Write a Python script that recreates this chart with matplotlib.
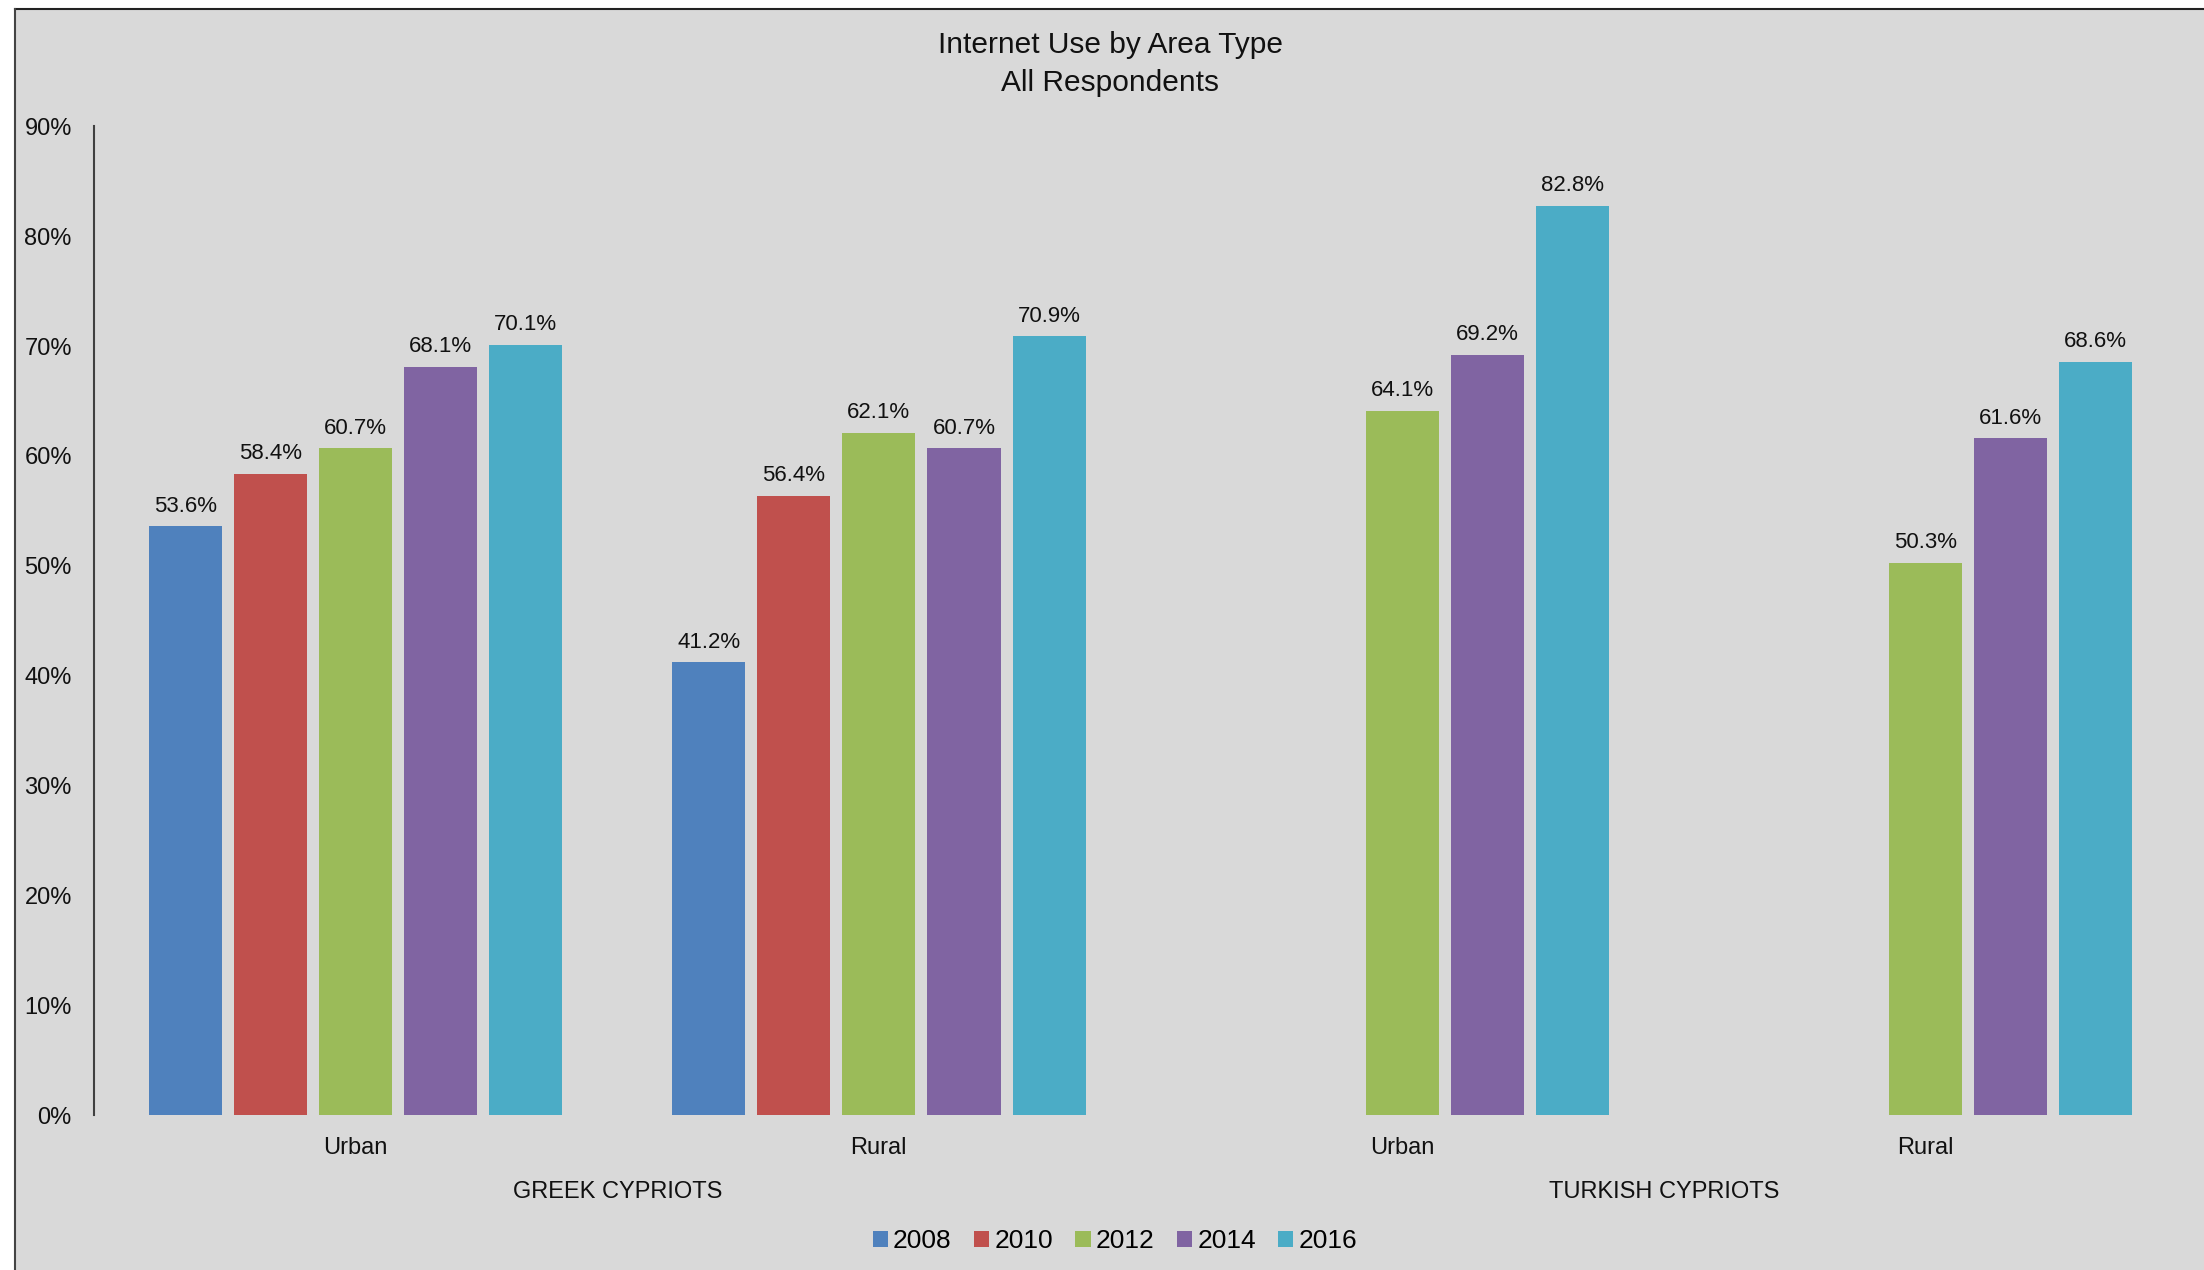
import numpy as np
import matplotlib
matplotlib.use("Agg")
import matplotlib.pyplot as plt
from matplotlib.patches import Rectangle
from matplotlib.lines import Line2D
from matplotlib.ticker import PercentFormatter

plt.rcParams['font.family'] = ['Liberation Sans', 'DejaVu Sans']

# data
categories = ["Urban", "Rural", "Urban", "Rural"]
groups = ["GREEK CYPRIOTS", "TURKISH CYPRIOTS"]
years = ["2008", "2010", "2012", "2014", "2016"]
colors = ["#4F81BD", "#C0504D", "#9BBB59", "#8064A2", "#4BACC6"]

v2008 = [53.6, 41.2, np.nan, np.nan]
v2010 = [58.4, 56.4, np.nan, np.nan]
v2012 = [60.7, 62.1, 64.1, 50.3]
v2014 = [68.1, 60.7, 69.2, 61.6]
v2016 = [70.1, 70.9, 82.8, 68.6]
series = [v2008, v2010, v2012, v2014, v2016]

W, H = 2204, 1270
fig = plt.figure(figsize=(W / 100, H / 100), dpi=100)
fig.patch.set_facecolor("white")

# grey chart area with border on top / left
fig.patches.append(Rectangle((15 / W, 0), 1, 1 - 9 / H, transform=fig.transFigure,
                             facecolor="#D9D9D9", edgecolor="none", zorder=-10))
fig.lines.append(Line2D([15 / W, 1], [1 - 9 / H, 1 - 9 / H], transform=fig.transFigure,
                        color="#222222", lw=1.5))
fig.lines.append(Line2D([15 / W, 15 / W], [0, 1 - 9 / H], transform=fig.transFigure,
                        color="#444444", lw=1.5))

ax = fig.add_axes([94 / W, 1 - 1115 / H, (2187 - 94) / W, (1115 - 126.5) / H])
ax.set_facecolor("none")

x = np.arange(len(categories))
pitch = 0.1627
width = 0.1396
for i, vals in enumerate(series):
    bars = ax.bar(x + (i - 2) * pitch, vals, width, color=colors[i], label=years[i])
    labels = ["" if np.isnan(v) else f"{v:.1f}%" for v in vals]
    ax.bar_label(bars, labels=labels, padding=7, fontsize=16, color="#111111")

ax.set_xlim(-0.5, 3.5)
ax.set_ylim(0, 90)
ax.set_yticks(np.arange(0, 91, 10))
ax.yaxis.set_major_formatter(PercentFormatter(100, decimals=0))
ax.tick_params(axis="y", length=0, pad=16, labelsize=17, labelcolor="#111111")
ax.set_xticks(x)
ax.set_xticklabels(categories)
ax.tick_params(axis="x", length=0, pad=16, labelsize=17, labelcolor="#111111")

for s in ["top", "right", "bottom"]:
    ax.spines[s].set_visible(False)
ax.spines["left"].set_color("#404040")
ax.spines["left"].set_linewidth(1.5)

# group labels
for j, g in enumerate(groups):
    ax.text(2 * j + 0.5, -0.078, g, transform=ax.get_xaxis_transform(),
            ha="center", va="center", fontsize=17, color="#111111")

fig.text(1110 / W, 1 - 45 / H, "Internet Use by Area Type", ha="center", va="center",
         fontsize=21.5, color="#111111")
fig.text(1110 / W, 1 - 83 / H, "All Respondents", ha="center", va="center",
         fontsize=21.5, color="#111111")

fig.legend(loc="center", bbox_to_anchor=(1115 / W, 1 - 1241 / H), ncol=5, frameon=False,
           fontsize=19, handlelength=0.57, handleheight=0.57, handletextpad=0.2,
           columnspacing=0.85, borderaxespad=0)

fig.savefig("out.png", dpi=100)
